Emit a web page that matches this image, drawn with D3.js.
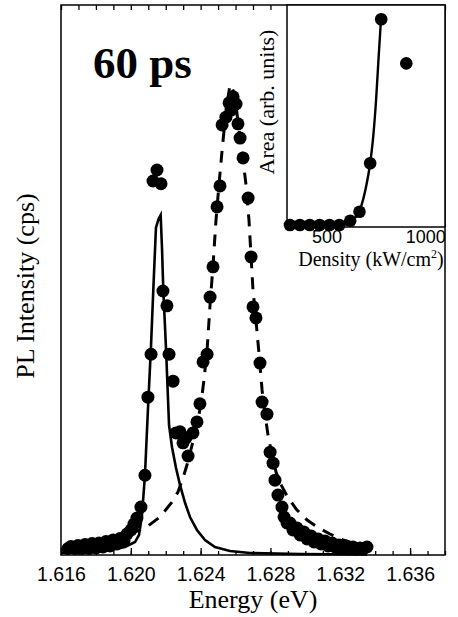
<!DOCTYPE html>
<meta charset="utf-8">
<style>
body { margin: 0; background: #fff; }
svg { font-family: "Liberation Serif", "Times New Roman", serif; }
.frame { fill: none; stroke: #000; stroke-width: 1.5; }
.axis path { display: none; }
.axis line { stroke: #000; stroke-width: 1.3; }
.axis text { font-size: 19.5px; fill: #000; }
.dot { fill: #000; }
</style>
<body>
<script src="https://cdn.jsdelivr.net/npm/d3@7"></script>
<script>
// measured PL spectrum (dots)
var energy = [1.6164, 1.61657, 1.6168, 1.61697, 1.6172, 1.61738, 1.6176, 1.61778, 1.61801, 1.61818,
  1.61841, 1.61858, 1.61881, 1.61898, 1.61921, 1.61938, 1.61961, 1.61978, 1.62001, 1.62018,
  1.62035, 1.62058, 1.62081, 1.62098, 1.62116, 1.62127, 1.6215, 1.62173, 1.62184, 1.62207,
  1.62219, 1.62242, 1.62259, 1.62282, 1.62299, 1.62316, 1.62328, 1.62356, 1.62379, 1.62396,
  1.62414, 1.62437, 1.62454, 1.62471, 1.62494, 1.62511, 1.62523, 1.62545, 1.62563, 1.62574,
  1.62586, 1.62603, 1.62614, 1.62626, 1.62643, 1.62672, 1.62689, 1.627, 1.62717, 1.6274,
  1.62752, 1.6278, 1.62798, 1.62815, 1.62826, 1.62843, 1.62866, 1.62878, 1.62895, 1.62912,
  1.62929, 1.62952, 1.6297, 1.62992, 1.6301, 1.63033, 1.6305, 1.63073, 1.6309, 1.63113,
  1.6313, 1.63153, 1.6317, 1.63193, 1.6321, 1.63233, 1.6325, 1.63273, 1.6329, 1.63313,
  1.6333, 1.63353];
var intensity = [1.18, 1.55, 1.18, 1.73, 1.18, 1.91, 1.18, 2.09, 1.27, 2.18,
  1.45, 2.45, 1.64, 2.73, 2.0, 3.0, 2.55, 3.82, 4.55, 5.64,
  6.73, 8.73, 14.5, 28.7, 36.5, 68.0, 70.0, 67.5, 48.0, 45.3,
  36.5, 31.6, 22.2, 22.4, 20.4, 21.3, 18.0, 22.2, 24.2, 27.5,
  35.1, 36.5, 46.9, 52.4, 63.3, 67.1, 78.2, 79.6, 82.2, 80.9,
  83.3, 82.0, 78.4, 75.8, 72.2, 64.9, 54.2, 45.1, 43.1, 34.9,
  27.8, 25.6, 18.7, 16.7, 13.6, 10.9, 8.73, 6.91, 5.82, 5.82,
  4.55, 4.91, 3.64, 4.18, 2.91, 3.45, 2.36, 2.91, 2.0, 2.55,
  1.64, 2.18, 1.45, 1.82, 1.27, 1.64, 1.09, 1.45, 1.09, 1.27,
  1.09, 1.45];

// fit of the low-energy line (solid)
var fitAE = [1.616, 1.61766, 1.61881, 1.61967, 1.62024, 1.62047, 1.62064, 1.62081, 1.62098, 1.62116,
  1.6213, 1.62144, 1.62159, 1.62171, 1.62179, 1.62186, 1.62202, 1.62219, 1.62236, 1.62259,
  1.62282, 1.62311, 1.62339, 1.62379, 1.62425, 1.62482, 1.62568, 1.62683, 1.6297, 1.63353];
var fitAI = [0.36, 0.55, 0.91, 1.45, 2.36, 3.64, 7.27, 14.5, 26.4, 38.2,
  49.1, 59.5, 61.1, 61.8, 55.5, 48.2, 37.3, 23.6, 19.6, 15.8,
  12.7, 9.45, 6.91, 4.55, 2.73, 1.45, 0.73, 0.36, 0.18, 0.09];

// fit of the high-energy band (dashed)
var fitBE = [1.6164, 1.61766, 1.61881, 1.61967, 1.62035, 1.62098, 1.62167, 1.62236, 1.6227, 1.62299,
  1.62322, 1.62351, 1.62385, 1.62402, 1.62419, 1.62437, 1.62454, 1.62471, 1.62488, 1.62505,
  1.62523, 1.6254, 1.62557, 1.62568, 1.6258, 1.62591, 1.62603, 1.62614, 1.62626, 1.62643,
  1.6266, 1.62677, 1.62689, 1.627, 1.62717, 1.62735, 1.62752, 1.62769, 1.62786, 1.62809,
  1.62832, 1.62855, 1.62901, 1.62952, 1.6301, 1.63067, 1.63141, 1.63216, 1.63285, 1.63353];
var fitBI = [1.82, 2.18, 2.73, 3.45, 4.36, 5.27, 6.91, 9.64, 11.45, 14.0,
  16.4, 20.0, 24.5, 27.6, 31.8, 37.3, 45.5, 52.7, 60.9, 67.3,
  73.6, 79.1, 83.1, 85.5, 84.9, 84.0, 81.8, 78.7, 75.8, 71.8,
  67.3, 60.9, 54.2, 48.2, 42.7, 36.4, 30.0, 25.5, 21.8, 18.2,
  15.1, 13.1, 10.4, 8.18, 6.36, 5.09, 3.82, 2.73, 2.0, 1.45];

// inset: integrated area vs excitation density
var density = [315, 365, 415, 465, 515, 565, 620, 667, 721, 777, 904];
var area = [0.9, 0.9, 0.9, 0.9, 0.9, 0.9, 2.8, 6.9, 28.7, 93.6, 73.7];
var insetFitD = [594, 619, 644, 666, 685, 700, 721, 735, 751, 763, 776];
var insetFitA = [1.1, 2.25, 4.05, 6.9, 12.2, 18.0, 28.7, 39.2, 57.2, 75.2, 93.6];

var energyTicks = [1.616, 1.620, 1.624, 1.628, 1.632, 1.636];
var densityTicks = [500, 1000];

var W = 458, H = 617;
var L = 61, R = 445, T = 5, B = 555;

var svg = d3.select("body").append("svg")
    .attr("width", W)
    .attr("height", H);

var x = d3.scaleLinear().domain([1.616, 1.638]).range([L, R]);
var y = d3.scaleLinear().domain([0, 100]).range([B, T]);

// minor ticks every 1 meV
var minor = d3.range(1.616, 1.6381, 0.001).map(function(d) { return +d.toFixed(3); });

svg.append("g")
    .attr("class", "axis")
    .attr("transform", "translate(0," + B + ")")
    .call(d3.axisBottom(x).tickValues(minor).tickSize(-4).tickFormat(""));

svg.append("g")
    .attr("class", "axis")
    .attr("transform", "translate(0," + B + ")")
    .call(d3.axisBottom(x).tickValues(energyTicks).tickSize(-7).tickPadding(12)
      .tickFormat(d3.format(".3f")));

svg.append("g")
    .attr("class", "axis")
    .attr("transform", "translate(0," + T + ")")
    .call(d3.axisTop(x).tickValues(minor).tickSize(-5).tickFormat(""));

svg.append("rect")
    .attr("class", "frame")
    .attr("x", L).attr("y", T)
    .attr("width", R - L).attr("height", B - T);

var lineA = d3.line()
    .x(function(d, i) { return x(fitAE[i]); })
    .y(function(d) { return y(d); });

var lineB = d3.line()
    .x(function(d, i) { return x(fitBE[i]); })
    .y(function(d) { return y(d); });

svg.append("path")
    .attr("d", lineA(fitAI))
    .attr("fill", "none")
    .attr("stroke", "#000")
    .attr("stroke-width", 2.6)
    .attr("stroke-linejoin", "miter");

svg.append("path")
    .attr("d", lineB(fitBI))
    .attr("fill", "none")
    .attr("stroke", "#000")
    .attr("stroke-width", 3)
    .attr("stroke-dasharray", "12,9");

svg.selectAll(".dot")
    .data(intensity)
  .enter().append("circle")
    .attr("class", "dot")
    .attr("r", 6.5)
    .attr("cx", function(d, i) { return x(energy[i]); })
    .attr("cy", function(d) { return y(d); });

// labels
svg.append("text")
    .attr("x", 93)
    .attr("y", 78)
    .style("font-size", "45px")
    .style("font-weight", "bold")
    .text("60 ps");

svg.append("text")
    .attr("x", 253)
    .attr("y", 608)
    .attr("text-anchor", "middle")
    .style("font-size", "26px")
    .text("Energy (eV)");

svg.append("text")
    .attr("transform", "translate(34,286) rotate(-90)")
    .attr("text-anchor", "middle")
    .style("font-size", "26px")
    .text("PL Intensity (cps)");

// inset
var iL = 287, iR = 445, iT = 5, iB = 227;
var ix = d3.scaleLinear().domain([300, 1100]).range([iL, iR]);
var iy = d3.scaleLinear().domain([0, 100]).range([iB, iT]);

var inset = svg.append("g");

inset.append("rect")
    .attr("x", iL).attr("y", iT)
    .attr("width", iR - iL).attr("height", iB - iT)
    .attr("fill", "#fff")
    .attr("stroke", "#000")
    .attr("stroke-width", 1.5);

inset.append("g")
    .attr("class", "axis")
    .attr("transform", "translate(0," + iB + ")")
    .call(d3.axisBottom(ix).tickValues(densityTicks).tickSize(0).tickPadding(3)
      .tickFormat(d3.format("d")))
    .selectAll("text").style("font-size", "18px");

var insetLine = d3.line()
    .curve(d3.curveMonotoneX)
    .x(function(d, i) { return ix(insetFitD[i]); })
    .y(function(d) { return iy(d); });

inset.append("path")
    .attr("d", insetLine(insetFitA))
    .attr("fill", "none")
    .attr("stroke", "#000")
    .attr("stroke-width", 2.4);

inset.selectAll(".idot")
    .data(area)
  .enter().append("circle")
    .attr("class", "dot")
    .attr("r", 6.3)
    .attr("cx", function(d, i) { return ix(density[i]); })
    .attr("cy", function(d) { return iy(d); });

var dlab = inset.append("text")
    .attr("x", 371)
    .attr("y", 266)
    .attr("text-anchor", "middle")
    .style("font-size", "20px");
dlab.append("tspan").text("Density (kW/cm");
dlab.append("tspan").attr("dy", -8).style("font-size", "12px").text("2");
dlab.append("tspan").attr("dy", 8).text(")");

inset.append("text")
    .attr("transform", "translate(274,102) rotate(-90)")
    .attr("text-anchor", "middle")
    .style("font-size", "22px")
    .text("Area (arb. units)");
</script>
</body>
</html>
